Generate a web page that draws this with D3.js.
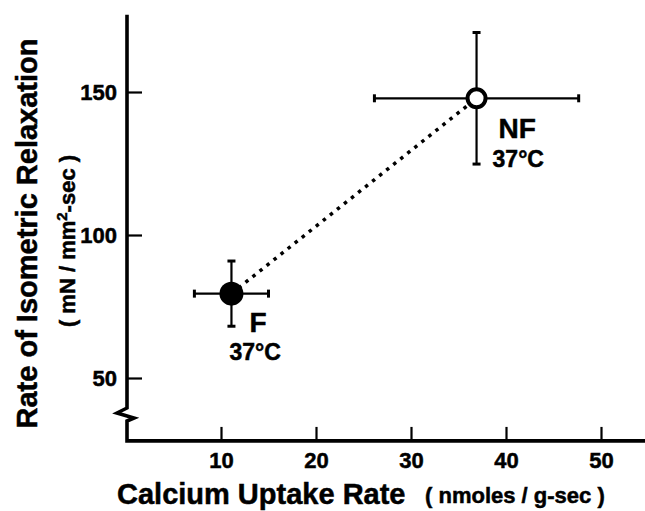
<!DOCTYPE html>
<html>
<head>
<meta charset="utf-8">
<script src="https://cdn.jsdelivr.net/npm/d3@7"></script>
<style>
  html, body { margin: 0; padding: 0; background: #fff; }
  svg { display: block; }
  text { font-family: "Liberation Sans", Arial, Helvetica, sans-serif; font-weight: bold; fill: #000; stroke: #000; stroke-width: 0.5px; }
</style>
</head>
<body>
<svg id="chart" width="645" height="511"></svg>
<script>
// ---- data ----
const groups = ["F", "NF"];
const temps = ["37°C", "37°C"];
const uptake = [11.1, 36.9];        // nmoles / g-sec
const uptakeErr = [3.9, 10.75];
const relaxation = [79.5, 147.8];   // mN / mm2-sec
const relaxErr = [11.4, 23];
const filled = [true, false];
const xTicks = [10, 20, 30, 40, 50];
const yTicks = [50, 100, 150];
const xDomainMin = 0, yAxisBottomValue = 28, yAxisTopValue = 177;

// ---- layout ----
const svg = d3.select("#chart");
const x = d3.scaleLinear().domain([0, 50]).range([126, 601]);
const y = d3.scaleLinear().domain([50, 150]).range([378, 92]);
const axisX = x(xDomainMin) + 1;           // vertical axis pixel x
const axisY = y(yAxisBottomValue);          // horizontal axis pixel y

// x axis
const gx = svg.append("g").attr("transform", `translate(0,${axisY})`)
  .call(d3.axisBottom(x).tickValues(xTicks).tickSize(-14).tickPadding(11).tickFormat(d3.format("d")));
gx.select(".domain").remove();
gx.selectAll(".tick line").attr("stroke", "#000").attr("stroke-width", 2.2);
gx.selectAll(".tick text").style("font-size", "22px").attr("font-family", null);

// y axis
const gy = svg.append("g").attr("transform", `translate(${axisX},0)`)
  .call(d3.axisLeft(y).tickValues(yTicks).tickSize(-15).tickPadding(10).tickFormat(d3.format("d")));
gy.select(".domain").remove();
gy.selectAll(".tick line").attr("stroke", "#000").attr("stroke-width", 2.2);
gy.selectAll(".tick text").style("font-size", "22px").attr("font-family", null);

// axis lines with break
const yTop = y(yAxisTopValue);
const breakY = 408;
svg.append("path")
  .attr("d", `M${axisX},${yTop} L${axisX},${breakY} L${axisX - 10},${breakY + 5} L${axisX + 7},${breakY + 10} L${axisX},${breakY + 13} L${axisX},${axisY} L645,${axisY}`)
  .attr("fill", "none").attr("stroke", "#000").attr("stroke-width", 3.6)
  .attr("stroke-linejoin", "miter");

// dotted connecting line
svg.append("line")
  .attr("x1", x(uptake[0])).attr("y1", y(relaxation[0]))
  .attr("x2", x(uptake[1])).attr("y2", y(relaxation[1]))
  .attr("stroke", "#000").attr("stroke-width", 3.5)
  .attr("stroke-dasharray", "3.5,5.5");

// error bars
const cap = 4;
groups.forEach((g, i) => {
  const cx = x(uptake[i]), cy = y(relaxation[i]);
  const gE = svg.append("g").attr("stroke", "#000").attr("stroke-width", 2.2);
  const x0 = x(uptake[i] - uptakeErr[i]), x1 = x(uptake[i] + uptakeErr[i]);
  const y0 = y(relaxation[i] + relaxErr[i]), y1 = y(relaxation[i] - relaxErr[i]);
  gE.append("line").attr("x1", x0).attr("x2", x1).attr("y1", cy).attr("y2", cy);
  gE.append("line").attr("x1", cx).attr("x2", cx).attr("y1", y0).attr("y2", y1);
  gE.append("line").attr("x1", x0).attr("x2", x0).attr("y1", cy - cap).attr("y2", cy + cap).attr("stroke-width", 3);
  gE.append("line").attr("x1", x1).attr("x2", x1).attr("y1", cy - cap).attr("y2", cy + cap).attr("stroke-width", 3);
  gE.append("line").attr("x1", cx - cap).attr("x2", cx + cap).attr("y1", y0).attr("y2", y0).attr("stroke-width", 3);
  gE.append("line").attr("x1", cx - cap).attr("x2", cx + cap).attr("y1", y1).attr("y2", y1).attr("stroke-width", 3);
});

// points
groups.forEach((g, i) => {
  const cx = x(uptake[i]), cy = y(relaxation[i]);
  if (filled[i]) {
    svg.append("circle").attr("cx", cx).attr("cy", cy).attr("r", 12).attr("fill", "#000");
  } else {
    svg.append("circle").attr("cx", cx).attr("cy", cy).attr("r", 9)
      .attr("fill", "#fff").attr("stroke", "#000").attr("stroke-width", 4);
  }
});

// point labels
const labelOff = [{nx: 18, ny: 38, tx: -2, ty: 66}, {nx: 22, ny: 40, tx: 16, ty: 69}];
groups.forEach((g, i) => {
  const cx = x(uptake[i]), cy = y(relaxation[i]);
  svg.append("text").attr("x", cx + labelOff[i].nx).attr("y", cy + labelOff[i].ny)
    .style("font-size", "28px").text(g);
  svg.append("text").attr("x", cx + labelOff[i].tx).attr("y", cy + labelOff[i].ty)
    .style("font-size", "23px").text(temps[i]);
});

// axis titles
svg.append("text").attr("x", 117).attr("y", 504).style("font-size", "29px").text("Calcium Uptake Rate");
svg.append("text").attr("x", 425).attr("y", 503).style("font-size", "22px").text("( nmoles / g-sec )");

svg.append("text").attr("transform", "translate(37,233.5) rotate(-90)")
  .attr("text-anchor", "middle").style("font-size", "29px").text("Rate of Isometric Relaxation");
const sub = svg.append("text").attr("transform", "translate(75,241) rotate(-90)")
  .attr("text-anchor", "middle").style("font-size", "22px");
sub.append("tspan").text("( mN / mm");
sub.append("tspan").attr("dy", -8).style("font-size", "15px").text("2");
sub.append("tspan").attr("dy", 8).text("-sec )");
</script>
</body>
</html>
